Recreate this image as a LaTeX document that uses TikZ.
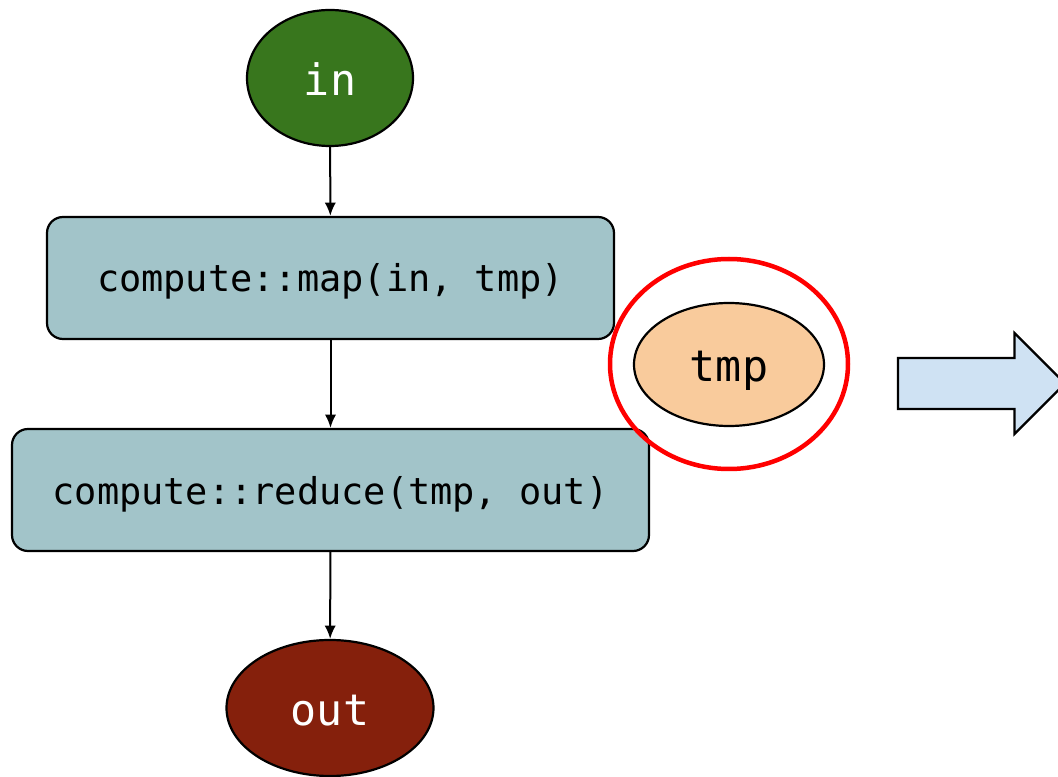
\documentclass[tikz,border=0pt]{standalone}
\usepackage{fontspec}
\setmonofont{DejaVu Sans Mono}
\usetikzlibrary{shapes.geometric,arrows.meta}
\newlength\pxu
\setlength\pxu{0.75pt}
\definecolor{ingreen}{HTML}{38761D}
\definecolor{outred}{HTML}{85200C}
\definecolor{tmporange}{HTML}{F9CB9C}
\definecolor{stepteal}{HTML}{A2C4C9}
\definecolor{flowblue}{HTML}{CFE2F3}
\tikzset{
  x=0.75pt, y=-0.75pt,
  datanode/.style={ellipse, draw=black, line width=2.2\pxu, inner sep=0pt,
    text height=26pt, text depth=0pt,
    font=\ttfamily\fontsize{32.5}{38}\selectfont},
  stepbox/.style={rectangle, rounded corners=16\pxu, draw=black, line width=2.2\pxu,
    fill=stepteal, inner sep=0pt, minimum height=122\pxu,
    text height=21pt, text depth=0pt,
    font=\ttfamily\fontsize{27.7}{32}\selectfont},
  flow/.style={draw=black, line width=2\pxu,
    -{Latex[length=10pt, width=8.5pt]}},
}
\begin{document}
\begin{tikzpicture}
\useasboundingbox (0,0) rectangle (1058,777);

% data and compute steps
\node[datanode, fill=ingreen, text=white, minimum width=166\pxu, minimum height=136\pxu]
  (in) at (330,78) {in};
\node[stepbox, minimum width=567\pxu] (map) at (330.5,278) {compute::map(in, tmp)};
\node[stepbox, minimum width=637\pxu] (reduce) at (330.5,490) {compute::reduce(tmp, out)};
\node[datanode, fill=outred, text=white, minimum width=207\pxu, minimum height=136\pxu]
  (out) at (330,708) {out};

% temporary buffer, highlighted
\node[datanode, fill=tmporange, text=black, minimum width=190\pxu, minimum height=123\pxu]
  (tmp) at (729,364.5) {tmp};
\node[ellipse, draw=red, line width=4.5\pxu, inner sep=0pt,
  minimum width=238\pxu, minimum height=210\pxu] (highlight) at (729,364) {};

% flow between steps
\draw[flow] (in) -- (map);
\draw[flow] (map) -- (reduce);
\draw[flow] (reduce) -- (out);

% block arrow pointing right
\filldraw[fill=flowblue, draw=black, line width=2.2\pxu, line join=miter]
  (898,358) -- (1014.5,358) -- (1014.5,333) -- (1065,383.5)
  -- (1014.5,434) -- (1014.5,409) -- (898,409) -- cycle;
\end{tikzpicture}
\end{document}
